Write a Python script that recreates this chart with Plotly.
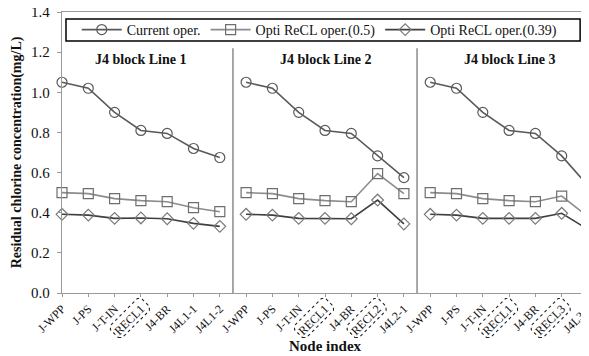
import math
import plotly.graph_objects as go

# ---- data ----
line1_nodes = ["J-WPP", "J-PS", "J-T-IN", "RECL1", "J4-BR", "J4L1-1", "J4L1-2"]
line2_nodes = ["J-WPP", "J-PS", "J-T-IN", "RECL1", "J4-BR", "RECL2", "J4L2-1"]
line3_nodes = ["J-WPP", "J-PS", "J-T-IN", "RECL1", "J4-BR", "RECL3", "J4L3-1"]
panel_titles = ["J4 block Line 1", "J4 block Line 2", "J4 block Line 3"]

current_oper = [
    [1.05, 1.02, 0.90, 0.81, 0.795, 0.72, 0.675],
    [1.05, 1.02, 0.90, 0.81, 0.795, 0.683, 0.575],
    [1.05, 1.02, 0.90, 0.81, 0.795, 0.683, 0.535],
]
opti_05 = [
    [0.50, 0.495, 0.47, 0.46, 0.455, 0.425, 0.405],
    [0.50, 0.495, 0.47, 0.46, 0.455, 0.595, 0.495],
    [0.50, 0.495, 0.47, 0.46, 0.455, 0.483, 0.38],
]
opti_039 = [
    [0.392, 0.388, 0.372, 0.374, 0.37, 0.347, 0.332],
    [0.392, 0.388, 0.372, 0.372, 0.37, 0.463, 0.344],
    [0.392, 0.388, 0.372, 0.372, 0.372, 0.397, 0.317],
]
series_names = ["Current oper.", "Opti ReCL oper.(0.5)", "Opti ReCL oper.(0.39)"]

n_per = len(line1_nodes)
n_total = n_per * 3
tick_text = line1_nodes + line2_nodes + line3_nodes
tick_vals = list(range(n_total))

FONT = "Liberation Serif, Times New Roman, serif"

styles = [
    dict(line=dict(color="#595959", width=1.6),
         marker=dict(symbol="circle-open", size=10, color="#595959", line=dict(width=1.2))),
    dict(line=dict(color="#8c8c8c", width=1.6),
         marker=dict(symbol="square-open", size=10, color="#6e6e6e", line=dict(width=1.2))),
    dict(line=dict(color="#3f3f3f", width=1.6),
         marker=dict(symbol="diamond-open", size=9, color="#7a7a7a", line=dict(width=1.2))),
]

fig = go.Figure()
for s_idx, (name, data) in enumerate(zip(series_names, [current_oper, opti_05, opti_039])):
    for p in range(3):
        xs = [p * n_per + i for i in range(n_per)]
        fig.add_trace(go.Scatter(
            x=xs, y=data[p], mode="lines+markers", name=name,
            legendgroup=name, showlegend=(p == 0),
            cliponaxis=False, **styles[s_idx]))

shapes = []
# separators between panels
for p in range(1, 3):
    xsep = p * n_per - 0.5
    shapes.append(dict(type="line", xref="x", yref="y", x0=xsep, x1=xsep, y0=0, y1=1.22,
                       line=dict(color="#8c8c8c", width=1.5)))
# legend box
shapes.append(dict(type="rect", xref="paper", yref="paper", x0=0.0076, x1=0.985, y0=0.897, y1=0.975,
                   line=dict(color="#000000", width=1.5)))


def rot_box():
    cx, cy = -11.0, -25.0
    hl, hw, ch = 22.0, 8.5, 3.0
    u = (-1 / math.sqrt(2), -1 / math.sqrt(2))
    v = (1 / math.sqrt(2), -1 / math.sqrt(2))
    pts = []
    for (a, b) in [(1, 1), (-1, 1), (-1, -1), (1, -1)]:
        if a * b > 0:
            pts.append((a * hl, b * (hw - ch)))
            pts.append((a * (hl - ch), b * hw))
        else:
            pts.append((a * (hl - ch), b * hw))
            pts.append((a * hl, b * (hw - ch)))
    coords = [(cx + s * u[0] + t * v[0], cy + s * u[1] + t * v[1]) for (s, t) in pts]
    return "M " + " L ".join(f"{x:.2f},{y:.2f}" for x, y in coords) + " Z"


for idx, lab in enumerate(tick_text):
    if lab.startswith("RECL"):
        shapes.append(dict(type="path", xref="paper", yref="paper",
                           xsizemode="pixel", ysizemode="pixel",
                           xanchor=idx / (n_total - 1), yanchor=0,
                           path=rot_box(), line=dict(color="#222222", width=1.1, dash="dot")))

annotations = []
for p in range(3):
    annotations.append(dict(x=p * n_per + 3, y=1.165, xref="x", yref="y", text=f"<b>{panel_titles[p]}</b>",
                            showarrow=False, font=dict(family=FONT, size=14, color="#111111")))

fig.update_layout(
    width=589, height=356,
    margin=dict(l=54, r=9, t=4, b=71),
    paper_bgcolor="white", plot_bgcolor="white",
    font=dict(family=FONT, color="#111111"),
    shapes=shapes, annotations=annotations,
    legend=dict(orientation="h", x=0.49, xanchor="center", y=0.936, yanchor="middle",
                bgcolor="rgba(0,0,0,0)", font=dict(family=FONT, size=14, color="#111111"),
                itemwidth=40, tracegroupgap=0),
)
fig.update_xaxes(range=[0, n_total - 1], tickvals=tick_vals, ticktext=tick_text, tickangle=-45,
                 tickfont=dict(family=FONT, size=12, color="#111111"),
                 ticklabeloverflow="allow", automargin=False,
                 showgrid=False, zeroline=False, showline=True, linecolor="#9a9a9a", linewidth=1.3,
                 mirror=True, ticks="outside", ticklen=3, tickcolor="#9a9a9a",
                 title=dict(text="<b>Node index</b>", font=dict(family=FONT, size=15), standoff=3))
fig.update_yaxes(range=[0, 1.4], dtick=0.2, tickformat=".1f",
                 tickfont=dict(family=FONT, size=15, color="#111111"),
                 ticklabelstandoff=4, ticklabeloverflow="allow", automargin=False,
                 showgrid=False, zeroline=False, showline=True, linecolor="#9a9a9a", linewidth=1.3,
                 mirror=True, ticks="outside", ticklen=4, tickcolor="#9a9a9a",
                 title=dict(text="<b>Residual chlorine concentration(mg/L)</b>",
                            font=dict(family=FONT, size=14), standoff=6))

fig.write_html("out.html")
